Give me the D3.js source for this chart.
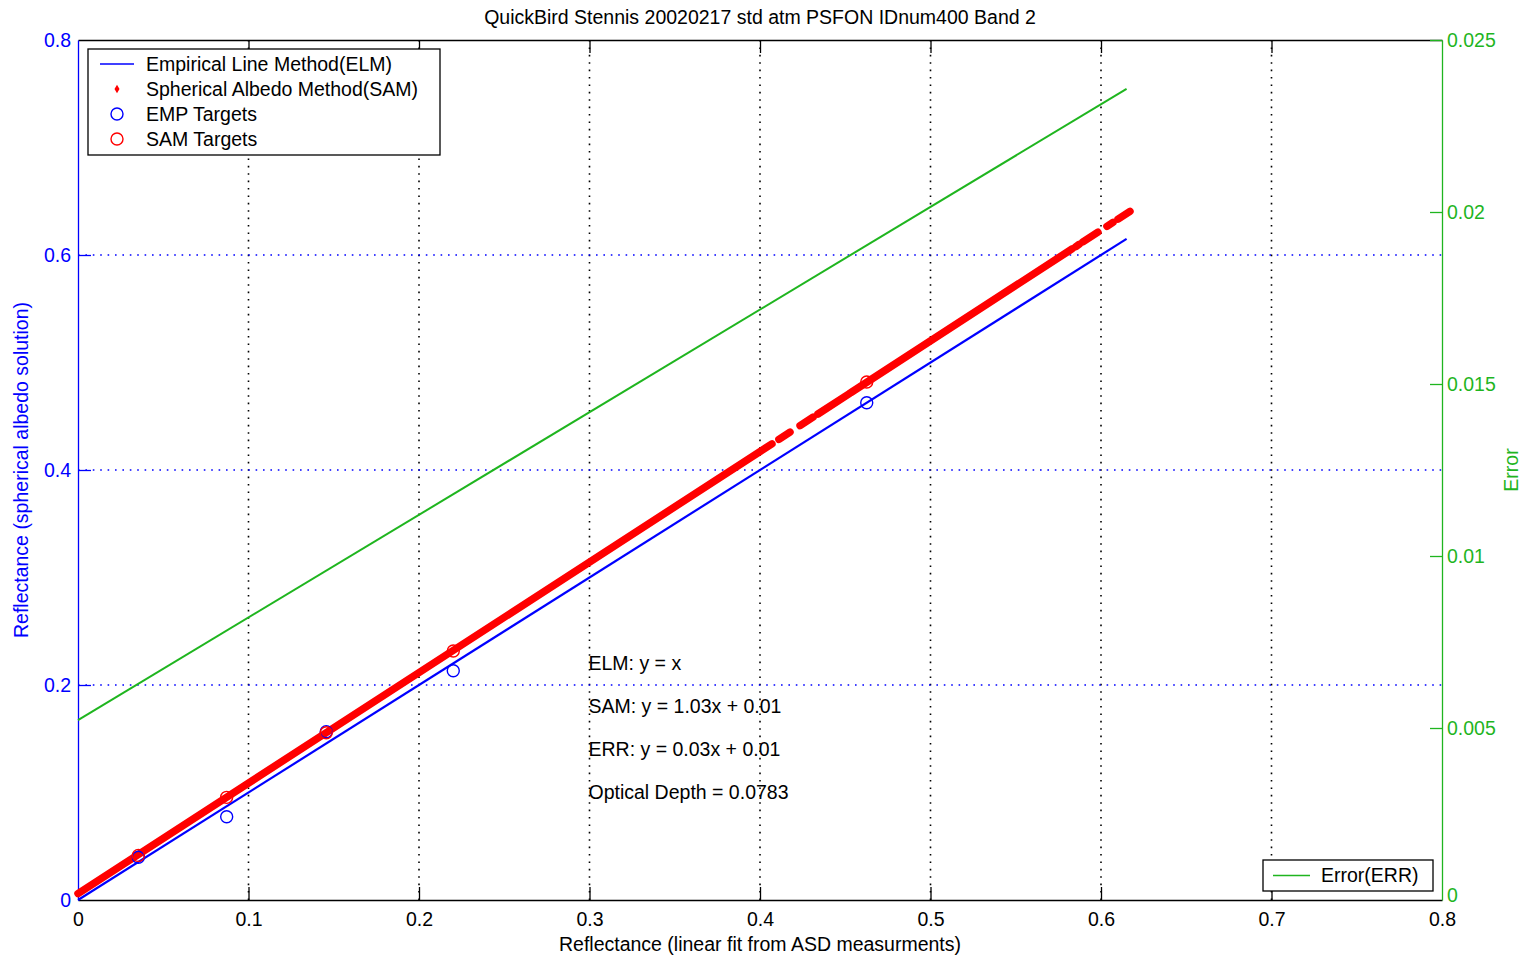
<!DOCTYPE html>
<html>
<head>
<meta charset="utf-8">
<script src="https://cdn.jsdelivr.net/npm/d3@7"></script>
<style>
  body { margin: 0; background: #fff; }
  svg text { font-family: "Liberation Sans", Arial, sans-serif; }
</style>
</head>
<body>
<div class="chart"></div>
<script>
// ---- data ----
const xTicks = [0, 0.1, 0.2, 0.3, 0.4, 0.5, 0.6, 0.7, 0.8]
const yTicks = [0, 0.2, 0.4, 0.6, 0.8]
const errTicks = [0, 0.005, 0.01, 0.015, 0.02, 0.025]

// ELM fit line (y = x)
const elmX = [0, 0.615]
const elmY = [0, 0.615]

// error line (right axis)
const errX = [0, 0.615]
const errY = [0.00523, 0.02358]

// SAM pixel cloud, as runs of dense dots [x0, y0, x1, y1]
const samRuns = [
  [0.0, 0.0060, 0.4070, 0.4243],
  [0.4111, 0.4285, 0.4176, 0.4352],
  [0.4235, 0.4413, 0.4311, 0.4491],
  [0.4340, 0.4521, 0.4522, 0.4709],
  [0.4534, 0.4721, 0.5830, 0.6056],
  [0.5853, 0.6079, 0.5871, 0.6098],
  [0.5894, 0.6122, 0.5982, 0.6212],
  [0.6035, 0.6267, 0.6070, 0.6303],
  [0.6100, 0.6334, 0.6170, 0.6406]
]

// target panels
const targetX = [0.0354, 0.0872, 0.1456, 0.2201, 0.4626]
const empY = [0.0397, 0.0775, 0.1566, 0.2133, 0.4626]
const samY = [0.0415, 0.0955, 0.1556, 0.2316, 0.4818]

const notes = ["ELM: y = x", "SAM: y = 1.03x + 0.01", "ERR: y = 0.03x + 0.01", "Optical Depth = 0.0783"]
const noteY = [0.22, 0.18, 0.14, 0.10]

const legendItems = ["Empirical Line Method(ELM)", "Spherical Albedo Method(SAM)", "EMP Targets", "SAM Targets"]

// ---- layout ----
const W = 1524, H = 955
const margin = {top: 40, right: 82, bottom: 55, left: 78}
const width = W - margin.left - margin.right
const height = H - margin.top - margin.bottom
const fs = "19.5px"
const blue = "#0000ff", red = "#ff0000", green = "#1fb51f"

const svg = d3.select(".chart").append("svg")
    .attr("width", W)
    .attr("height", H)
  .append("g")
    .attr("transform", `translate(${margin.left},${margin.top})`)

const x = d3.scaleLinear().domain([0, 0.8]).range([0, width])
const y = d3.scaleLinear().domain([0, 0.8]).range([height, 0])
const yErr = d3.scaleLinear().domain([0, 0.025]).range([height, 0])

// grid
svg.append("g").selectAll("line")
  .data(xTicks.filter(d => d > 0 && d < 0.8))
  .join("line")
    .attr("x1", d => x(d)).attr("x2", d => x(d))
    .attr("y1", 0).attr("y2", height)
    .attr("stroke", "#000")
    .attr("stroke-width", 1.6)
    .attr("stroke-dasharray", "1.6,5.8")

svg.append("g").selectAll("line")
  .data(yTicks.filter(d => d > 0 && d < 0.8))
  .join("line")
    .attr("x1", 0).attr("x2", width)
    .attr("y1", d => y(d)).attr("y2", d => y(d))
    .attr("stroke", blue)
    .attr("stroke-width", 1.6)
    .attr("stroke-dasharray", "1.6,5.8")

// axes
function styleAxis(g, color) {
  g.selectAll("path, line").attr("stroke", color).attr("stroke-width", 1.3)
  g.selectAll("text").attr("fill", color).style("font-size", fs)
}

svg.append("g")
    .attr("transform", `translate(0,${height})`)
    .call(d3.axisBottom(x).tickValues(xTicks).tickFormat(d3.format("")).tickSize(-13).tickSizeOuter(0).tickPadding(12))
    .call(g => styleAxis(g, "#000"))
    .call(g => g.selectAll(".tick line").filter(d => d == 0 || d == 0.8).remove())

svg.append("g")
    .call(d3.axisTop(x).tickValues(xTicks).tickFormat("").tickSize(-13).tickSizeOuter(0))
    .call(g => styleAxis(g, "#000"))
    .call(g => g.selectAll(".tick line").filter(d => d == 0 || d == 0.8).remove())

svg.append("g")
    .call(d3.axisLeft(y).tickValues(yTicks).tickFormat(d3.format("")).tickSize(-13).tickSizeOuter(0).tickPadding(7))
    .call(g => styleAxis(g, blue))
    .call(g => g.selectAll(".tick line").filter(d => d == 0 || d == 0.8).remove())

svg.append("g")
    .attr("transform", `translate(${width},0)`)
    .call(d3.axisRight(yErr).tickValues(errTicks).tickFormat(d3.format("")).tickSize(-12).tickSizeOuter(0).tickPadding(5))
    .call(g => styleAxis(g, green))
    .call(g => g.selectAll(".tick line").filter(d => d == 0).remove())
    .call(g => g.selectAll(".tick text").filter(d => d == 0).attr("dy", "0.1em"))

// data
const line = d3.line()

svg.append("g").selectAll("line")
  .data(samRuns)
  .join("line")
    .attr("x1", d => x(d[0])).attr("y1", d => y(d[1]))
    .attr("x2", d => x(d[2])).attr("y2", d => y(d[3]))
    .attr("stroke", red)
    .attr("stroke-width", 7.5)
    .attr("stroke-linecap", "round")

svg.append("path")
    .attr("d", line(elmX.map((d, i) => [x(d), y(elmY[i])])))
    .attr("fill", "none")
    .attr("stroke", blue)
    .attr("stroke-width", 2.2)

svg.append("path")
    .attr("d", line(errX.map((d, i) => [x(d), yErr(errY[i])])))
    .attr("fill", "none")
    .attr("stroke", green)
    .attr("stroke-width", 2)

svg.append("g").selectAll("circle")
  .data(targetX)
  .join("circle")
    .attr("cx", d => x(d))
    .attr("cy", (d, i) => y(empY[i]))
    .attr("r", 6)
    .attr("fill", "none")
    .attr("stroke", blue)
    .attr("stroke-width", 1.4)

svg.append("g").selectAll("circle")
  .data(targetX)
  .join("circle")
    .attr("cx", d => x(d))
    .attr("cy", (d, i) => y(samY[i]))
    .attr("r", 6)
    .attr("fill", "none")
    .attr("stroke", red)
    .attr("stroke-width", 1.4)

// annotations
svg.append("g").selectAll("text")
  .data(notes)
  .join("text")
    .attr("x", x(0.3) - 1)
    .attr("y", (d, i) => y(noteY[i]))
    .attr("dy", "0.35em")
    .style("font-size", fs)
    .text(d => d)

// title and labels
svg.append("text")
    .attr("x", width / 2)
    .attr("y", -16)
    .attr("text-anchor", "middle")
    .style("font-size", fs)
    .text("QuickBird Stennis 20020217 std atm PSFON IDnum400 Band 2")

svg.append("text")
    .attr("x", width / 2)
    .attr("y", height + 51)
    .attr("text-anchor", "middle")
    .style("font-size", fs)
    .text("Reflectance (linear fit from ASD measurments)")

svg.append("text")
    .attr("transform", `translate(${-50},${height / 2}) rotate(-90)`)
    .attr("text-anchor", "middle")
    .attr("fill", blue)
    .style("font-size", fs)
    .text("Reflectance (spherical albedo solution)")

svg.append("text")
    .attr("transform", `translate(${width + 76},${height / 2}) rotate(-90)`)
    .attr("text-anchor", "middle")
    .attr("fill", green)
    .style("font-size", fs)
    .text("Error")

// legend, top left
const leg = svg.append("g").attr("transform", "translate(10,9)")
leg.append("rect")
    .attr("width", 352).attr("height", 106)
    .attr("fill", "#fff").attr("stroke", "#000").attr("stroke-width", 1.3)

const rows = leg.selectAll(".row")
  .data(legendItems)
  .join("g")
    .attr("class", "row")
    .attr("transform", (d, i) => `translate(0,${15 + i * 25})`)

rows.append("text")
    .attr("x", 58)
    .attr("dy", "0.35em")
    .style("font-size", fs)
    .text(d => d)

rows.filter((d, i) => i == 0).append("line")
    .attr("x1", 12).attr("x2", 46)
    .attr("stroke", blue).attr("stroke-width", 1.5)
rows.filter((d, i) => i == 1).append("path")
    .attr("d", d3.symbol(d3.symbolDiamond, 22))
    .attr("transform", "translate(29,0)")
    .attr("fill", red)
rows.filter((d, i) => i == 2).append("circle")
    .attr("cx", 29).attr("r", 6)
    .attr("fill", "none").attr("stroke", blue).attr("stroke-width", 1.4)
rows.filter((d, i) => i == 3).append("circle")
    .attr("cx", 29).attr("r", 6)
    .attr("fill", "none").attr("stroke", red).attr("stroke-width", 1.4)

// legend, bottom right
const leg2 = svg.append("g").attr("transform", `translate(${1263 - margin.left},${860 - margin.top})`)
leg2.append("rect")
    .attr("width", 170).attr("height", 31)
    .attr("fill", "#fff").attr("stroke", "#000").attr("stroke-width", 1.3)
leg2.append("line")
    .attr("x1", 10).attr("x2", 47).attr("y1", 15.5).attr("y2", 15.5)
    .attr("stroke", green).attr("stroke-width", 1.5)
leg2.append("text")
    .attr("x", 58).attr("y", 15.5)
    .attr("dy", "0.35em")
    .style("font-size", fs)
    .text("Error(ERR)")
</script>
</body>
</html>
